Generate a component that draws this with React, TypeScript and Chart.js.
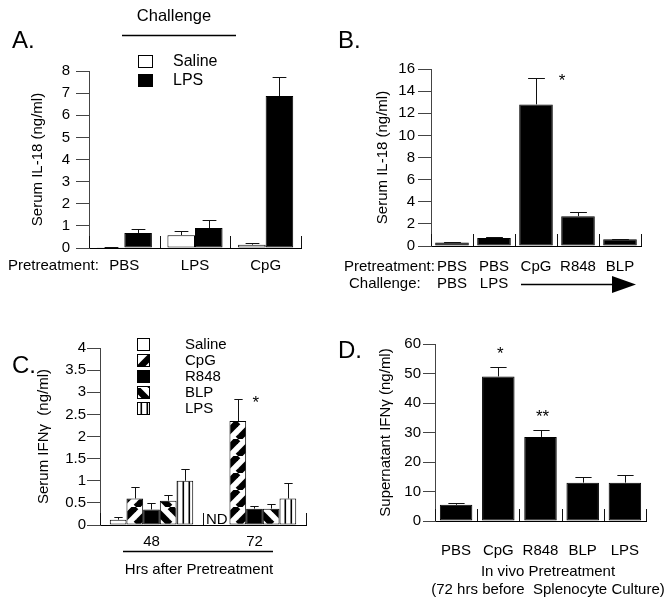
import React, { useEffect, useRef } from 'react';
import { Chart, registerables } from 'chart.js';
Chart.register(...registerables);

const FONT = '"Liberation Sans", Arial, Helvetica, sans-serif';
Chart.defaults.font.family = FONT;
Chart.defaults.color = '#000';

// ---------- Panel A ----------
const catsA = ['PBS', 'LPS', 'CpG'];
const salineA = [0.03, 0.58, 0.15];
const salineAErr = [0.04, 0.77, 0.22];
const lpsA = [0.68, 0.9, 6.87];
const lpsAErr = [0.87, 1.28, 7.75];

// ---------- Panel B ----------
const pretreatB = ['PBS', 'PBS', 'CpG', 'R848', 'BLP'];
const challengeB = ['PBS', 'LPS', '', '', ''];
const valuesB = [0.32, 0.72, 12.8, 2.7, 0.6];
const errorsB = [0.35, 0.85, 15.2, 3.1, 0.65];
const starsB = ['', '', '*', '', ''];

// ---------- Panel C ----------
const catsC = ['48', '72'];
const salineC = [0.12, null];
const salineCErr = [0.18, null];
const cpgC = [0.6, 2.35];
const cpgCErr = [0.85, 2.85];
const r848C = [0.35, 0.37];
const r848CErr = [0.5, 0.43];
const blpC = [0.55, 0.37];
const blpCErr = [0.67, 0.47];
const lpsC = [1.0, 0.6];
const lpsCErr = [1.27, 0.95];
const starsCpgC = ['', '*'];
const yTicksC = [0, 0.5, 1, 1.5, 2, 2.5, 3, 3.5, 4];

// ---------- Panel D ----------
const catsD = ['PBS', 'CpG', 'R848', 'BLP', 'LPS'];
const valuesD = [5.5, 49, 28.5, 13, 13];
const errorsD = [6, 52.3, 30.8, 15, 15.5];
const starsD = ['', '*', '**', '', ''];

const W = 336;
const H = 303;

function txt(ctx: CanvasRenderingContext2D, s: string, x: number, y: number, size = 15, align: CanvasTextAlign = 'left', baseline: CanvasTextBaseline = 'middle') {
  ctx.save();
  ctx.font = `${size}px ${FONT}`;
  ctx.fillStyle = '#000';
  ctx.textAlign = align;
  ctx.textBaseline = baseline;
  ctx.fillText(s, x, y);
  ctx.restore();
}
function line(ctx: CanvasRenderingContext2D, x1: number, y1: number, x2: number, y2: number, w = 1, color = '#000') {
  ctx.save();
  ctx.strokeStyle = color;
  ctx.lineWidth = w;
  ctx.beginPath();
  ctx.moveTo(x1, y1);
  ctx.lineTo(x2, y2);
  ctx.stroke();
  ctx.restore();
}
function box(ctx: CanvasRenderingContext2D, x: number, y: number, w: number, h: number, fill: any) {
  ctx.save();
  ctx.fillStyle = fill;
  ctx.fillRect(x, y, w, h);
  ctx.strokeStyle = '#000';
  ctx.lineWidth = 1;
  ctx.strokeRect(x + 0.5, y + 0.5, w - 1, h - 1);
  ctx.restore();
}

function makePattern(kind: string): any {
  const c = document.createElement('canvas');
  const s = kind === 'vert' ? 6 : 17;
  c.width = s;
  c.height = s;
  const g = c.getContext('2d')!;
  g.fillStyle = '#fff';
  g.fillRect(0, 0, s, s);
  g.strokeStyle = '#000';
  g.fillStyle = '#000';
  if (kind === 'fwd') {
    g.lineWidth = 6.5;
    for (const o of [-s, 0, s]) {
      g.beginPath(); g.moveTo(o, s); g.lineTo(o + s, 0); g.stroke();
    }
  } else if (kind === 'back') {
    g.lineWidth = 6.5;
    for (const o of [-s, 0, s]) {
      g.beginPath(); g.moveTo(o, 0); g.lineTo(o + s, s); g.stroke();
    }
  } else {
    g.fillRect(2.5, 0, 1.6, s);
  }
  return g.createPattern(c, 'repeat');
}

// error bars + category separator ticks + stars
function extrasPlugin(star?: { arrays: { ds: number; marks: string[] }[]; dx: number; dy: number }) {
  return {
    id: 'extras',
    afterDatasetsDraw(chart: any) {
      const ctx: CanvasRenderingContext2D = chart.ctx;
      const xs = chart.scales.x;
      const ys = chart.scales.y;
      const n = chart.data.labels.length;
      ctx.save();
      ctx.strokeStyle = '#111';
      ctx.lineWidth = 1;
      for (let i = 0; i <= n; i++) {
        const px = Math.round(xs.left + (i * (xs.right - xs.left)) / n) + 0.5;
        ctx.beginPath();
        ctx.moveTo(px, ys.bottom);
        ctx.lineTo(px, ys.bottom - 12);
        ctx.stroke();
      }
      chart.data.datasets.forEach((ds: any, di: number) => {
        const errs = ds.errors;
        if (!errs) return;
        const meta = chart.getDatasetMeta(di);
        meta.data.forEach((bar: any, i: number) => {
          const e = errs[i];
          if (e == null || ds.data[i] == null) return;
          const bx = Math.round(bar.x) + 0.5;
          const by = bar.y;
          const ey = Math.round(ys.getPixelForValue(e)) + 0.5;
          const cw = bar.width * 0.5;
          ctx.beginPath();
          ctx.moveTo(bx, by);
          ctx.lineTo(bx, ey);
          ctx.moveTo(bx - cw / 2, ey);
          ctx.lineTo(bx + cw / 2, ey);
          ctx.stroke();
        });
      });
      ctx.restore();
      if (star) {
        star.arrays.forEach(({ ds, marks }) => {
          const meta = chart.getDatasetMeta(ds);
          const errs = chart.data.datasets[ds].errors;
          marks.forEach((m, i) => {
            if (!m) return;
            const bar = meta.data[i];
            const ey = ys.getPixelForValue(errs[i]);
            txt(ctx, m, bar.x + star.dx, ey + star.dy + 9, 17, 'center', 'alphabetic');
          });
        });
      }
    },
  };
}

function decor(fn: (ctx: CanvasRenderingContext2D, chart: any) => void) {
  return { id: 'decor', afterDraw(chart: any) { fn(chart.ctx, chart); } };
}

function yScale(opts: { max: number; step: number; title: string; width: number; titlePad: number; labelPad: number; tickLen: number; cb?: (v: any) => string }) {
  return {
    min: 0,
    max: opts.max,
    ticks: { stepSize: opts.step, font: { size: 15 }, padding: opts.labelPad, color: '#000', callback: opts.cb },
    grid: { drawOnChartArea: false, drawTicks: true, tickLength: opts.tickLen, color: '#444', lineWidth: 1 },
    border: { display: true, color: '#444', width: 1 },
    title: { display: true, text: opts.title, font: { size: 15 }, padding: { top: opts.titlePad, bottom: 0 }, color: '#000' },
    afterFit(s: any) { s.width = opts.width; },
  };
}
function xScale(height: number, pad: number, lineHeight = 1.2) {
  return {
    grid: { display: false, drawTicks: false, tickLength: 0 },
    border: { display: true, color: '#000', width: 1 },
    ticks: { font: { size: 15, lineHeight }, padding: pad, color: '#000', maxRotation: 0, minRotation: 0, autoSkip: false },
    afterFit(s: any) { s.height = height; },
  };
}
const baseOpts = (pad: any) => ({
  responsive: false,
  maintainAspectRatio: false,
  animation: false,
  devicePixelRatio: 1,
  layout: { padding: pad },
  plugins: { legend: { display: false }, tooltip: { enabled: false }, title: { display: false } },
});
const barStyle = (bg: any, cp: number) => ({
  backgroundColor: bg,
  borderColor: '#000',
  borderWidth: 1,
  borderSkipped: false,
  categoryPercentage: cp,
  barPercentage: 1,
});

function buildA(): any {
  return {
    type: 'bar',
    data: {
      labels: catsA,
      datasets: [
        { label: 'Saline', data: salineA, errors: salineAErr, ...barStyle('#fff', 0.78) },
        { label: 'LPS', data: lpsA, errors: lpsAErr, ...barStyle('#000', 0.78) },
      ],
    },
    options: {
      ...baseOpts({ top: 71, right: 35, left: 0, bottom: 0 }),
      scales: {
        x: xScale(55, 9),
        y: yScale({ max: 8, step: 1, title: 'Serum IL-18 (ng/ml)', width: 89, titlePad: 29, labelPad: 6, tickLen: 13 }),
      },
    },
    plugins: [
      extrasPlugin(),
      decor((ctx, chart) => {
        txt(ctx, 'A.', 12, 41, 24);
        txt(ctx, 'Challenge', 174, 16, 16.5, 'center');
        line(ctx, 122, 35.5, 236, 35.5, 1.5);
        const ds = chart.data.datasets;
        box(ctx, 138, 55, 15, 13, ds[0].backgroundColor);
        box(ctx, 138, 74, 15, 13, ds[1].backgroundColor);
        txt(ctx, ds[0].label, 173, 62, 16);
        txt(ctx, ds[1].label, 173, 81, 16);
        txt(ctx, 'Pretreatment:', 8, 266, 15);
      }),
    ],
  };
}

function buildB(): any {
  return {
    type: 'bar',
    data: {
      labels: pretreatB.map((p, i) => (challengeB[i] ? [p, challengeB[i]] : p)),
      datasets: [{ label: 'IL-18', data: valuesB, errors: errorsB, ...barStyle('#000', 0.8) }],
    },
    options: {
      ...baseOpts({ top: 69, right: 31, left: 0, bottom: 0 }),
      scales: {
        x: xScale(57, 12, 1.13),
        y: yScale({ max: 16, step: 2, title: 'Serum IL-18 (ng/ml)', width: 95, titlePad: 38, labelPad: 3, tickLen: 13 }),
      },
    },
    plugins: [
      extrasPlugin({ arrays: [{ ds: 0, marks: starsB }], dx: 26, dy: -1 }),
      decor((ctx) => {
        txt(ctx, 'B.', 2, 41, 24);
        txt(ctx, 'Pretreatment:', 8, 267, 15);
        txt(ctx, 'Challenge:', 13, 284, 15);
        line(ctx, 185, 284.5, 280, 284.5, 1.5);
        ctx.save();
        ctx.fillStyle = '#000';
        ctx.beginPath();
        ctx.moveTo(276, 276);
        ctx.lineTo(300, 284.5);
        ctx.lineTo(276, 293);
        ctx.closePath();
        ctx.fill();
        ctx.restore();
      }),
    ],
  };
}

function buildC(): any {
  const pFwd = makePattern('fwd');
  const pBack = makePattern('back');
  const pVert = makePattern('vert');
  const cp = 0.81;
  return {
    type: 'bar',
    data: {
      labels: catsC,
      datasets: [
        { label: 'Saline', data: salineC, errors: salineCErr, ...barStyle('#fff', cp) },
        { label: 'CpG', data: cpgC, errors: cpgCErr, ...barStyle(pFwd, cp) },
        { label: 'R848', data: r848C, errors: r848CErr, ...barStyle('#000', cp) },
        { label: 'BLP', data: blpC, errors: blpCErr, ...barStyle(pBack, cp) },
        { label: 'LPS', data: lpsC, errors: lpsCErr, ...barStyle(pVert, cp) },
      ],
    },
    options: {
      ...baseOpts({ top: 45, right: 30, left: 0, bottom: 0 }),
      scales: {
        x: xScale(81, 8),
        y: {
          ...yScale({ max: 4, step: 0.5, title: 'Serum IFNγ  (ng/ml)', width: 100, titlePad: 35, labelPad: 1, tickLen: 13, cb: (v: any) => (yTicksC.includes(v) ? String(v) : '') }),
        },
      },
    },
    plugins: [
      extrasPlugin({ arrays: [{ ds: 1, marks: starsCpgC }], dx: 18, dy: 0 }),
      decor((ctx, chart) => {
        txt(ctx, 'C.', 12, 63, 24);
        const ds = chart.data.datasets;
        ds.forEach((d: any, i: number) => {
          box(ctx, 137, 35 + i * 16, 13, 13, d.backgroundColor);
          txt(ctx, d.label, 185, 42 + i * 16, 15);
        });
        txt(ctx, 'ND', 206, 217, 15);
        line(ctx, 123, 248.5, 273, 248.5, 1.5);
        txt(ctx, 'Hrs after Pretreatment', 199, 267, 15, 'center');
      }),
    ],
  };
}

function buildD(): any {
  return {
    type: 'bar',
    data: {
      labels: catsD,
      datasets: [{ label: 'IFNγ', data: valuesD, errors: errorsD, ...barStyle('#000', 0.77) }],
    },
    options: {
      ...baseOpts({ top: 41, right: 26, left: 0, bottom: 0 }),
      scales: {
        x: xScale(85, 21),
        y: yScale({ max: 60, step: 10, title: 'Supernatant IFNγ (ng/ml)', width: 99, titlePad: 41, labelPad: 2, tickLen: 12 }),
      },
    },
    plugins: [
      extrasPlugin({ arrays: [{ ds: 0, marks: starsD }], dx: 2, dy: -17 }),
      decor((ctx) => {
        txt(ctx, 'D.', 2, 48, 24);
        txt(ctx, 'In vivo Pretreatment', 212, 269, 15, 'center');
        txt(ctx, '(72 hrs before  Splenocyte Culture)', 212, 287, 15, 'center');
      }),
    ],
  };
}

function Panel({ build, left, top }: { build: () => any; left: number; top: number }) {
  const ref = useRef<HTMLCanvasElement>(null);
  useEffect(() => {
    const chart = new Chart(ref.current as HTMLCanvasElement, build());
    return () => chart.destroy();
  }, []);
  return (
    <canvas
      ref={ref}
      width={W}
      height={H}
      style={{ position: 'absolute', left, top, width: W, height: H, display: 'block' }}
    />
  );
}

export default function App() {
  return (
    <div style={{ position: 'absolute', left: 0, top: 0, width: 672, height: 606, background: '#fff', overflow: 'hidden' }}>
      <Panel build={buildA} left={0} top={0} />
      <Panel build={buildB} left={336} top={0} />
      <Panel build={buildC} left={0} top={303} />
      <Panel build={buildD} left={336} top={303} />
    </div>
  );
}
